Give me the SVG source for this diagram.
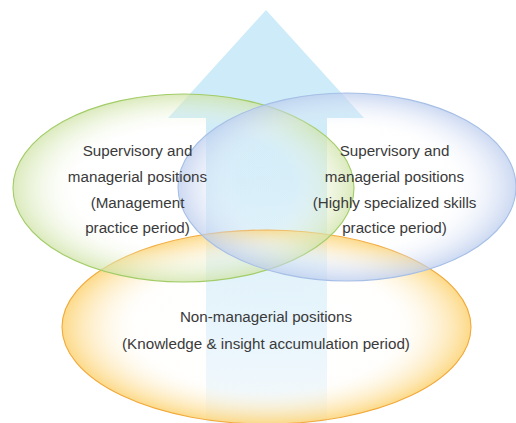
<svg xmlns="http://www.w3.org/2000/svg" width="516" height="423" viewBox="0 0 516 423">
  <defs>
    <linearGradient id="shaftGrad" x1="0" y1="0" x2="0" y2="1">
      <stop offset="0" stop-color="#cdebf8"/>
      <stop offset="1" stop-color="#f3f9fe"/>
    </linearGradient>
    <radialGradient id="greenGrad" cx="0.5" cy="0.5" r="0.5">
      <stop offset="0" stop-color="#ffffff" stop-opacity="0"/>
      <stop offset="0.65" stop-color="#f6faee" stop-opacity="0.05"/>
      <stop offset="1" stop-color="#cfe3a6" stop-opacity="0.75"/>
    </radialGradient>
    <radialGradient id="blueGrad" cx="0.5" cy="0.5" r="0.5">
      <stop offset="0" stop-color="#ffffff" stop-opacity="0"/>
      <stop offset="0.65" stop-color="#f1f4fb" stop-opacity="0.05"/>
      <stop offset="1" stop-color="#bccdee" stop-opacity="0.75"/>
    </radialGradient>
    <radialGradient id="orangeGrad" cx="0.5" cy="0.5" r="0.5">
      <stop offset="0" stop-color="#ffffff" stop-opacity="0"/>
      <stop offset="0.65" stop-color="#fff9ea" stop-opacity="0.1"/>
      <stop offset="1" stop-color="#fcd374" stop-opacity="0.85"/>
    </radialGradient>
  </defs>
  <style>
    .lbl { font-family: "Liberation Sans", Arial, sans-serif; font-size: 15.2px; fill: #3a3a3a; text-anchor: middle; }
    .ell { stroke-width: 1.1; }
  </style>

  <g id="arrow">
    <polygon points="266,10 364,118 168,118" fill="#cdebf8"/>
    <rect x="206" y="117.5" width="121" height="306" fill="url(#shaftGrad)"/>
  </g>

  <g id="non-managerial">
    <ellipse class="ell" cx="266.5" cy="327" rx="204.5" ry="97" fill="url(#orangeGrad)" stroke="#f2a93b"/>
  </g>

  <g id="management">
    <ellipse class="ell" cx="183.5" cy="188" rx="170.5" ry="94" fill="url(#greenGrad)" stroke="#a2cc68"/>
  </g>

  <g id="specialized">
    <ellipse class="ell" cx="347" cy="187" rx="169" ry="94" fill="url(#blueGrad)" stroke="#a6bfe6"/>
  </g>

  <g id="non-managerial-label">
    <text class="lbl" x="266" y="322">Non-managerial positions</text>
    <text class="lbl" x="266" y="349">(Knowledge &amp; insight accumulation period)</text>
  </g>

  <g id="management-label">
    <text class="lbl" x="137.5" y="156">Supervisory and</text>
    <text class="lbl" x="137.5" y="182">managerial positions</text>
    <text class="lbl" x="137.5" y="207.5">(Management</text>
    <text class="lbl" x="137.5" y="233">practice period)</text>
  </g>

  <g id="specialized-label">
    <text class="lbl" x="394.5" y="156">Supervisory and</text>
    <text class="lbl" x="394.5" y="182">managerial positions</text>
    <text class="lbl" x="394.5" y="207.5">(Highly specialized skills</text>
    <text class="lbl" x="394.5" y="233">practice period)</text>
  </g>

  <g id="connectors"/>
</svg>
